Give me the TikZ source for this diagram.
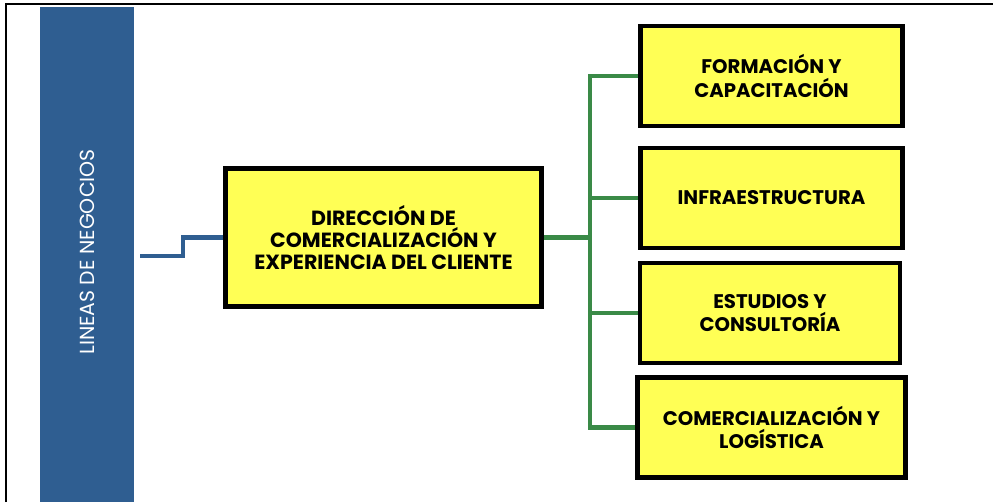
\documentclass[tikz,border=0pt]{standalone}
\usepackage{fontspec}
\setmainfont{Poppins}
\usepackage{tikz}
\usetikzlibrary{positioning}

\definecolor{barblue}{HTML}{2F5E91}
\definecolor{linkgreen}{HTML}{3A8A47}
\definecolor{boxyellow}{HTML}{FFFF55}

\begin{document}
\begin{tikzpicture}[x=0.025cm, y=-0.025cm,
  unit/.style={draw=black, line width=3.4pt, fill=boxyellow, align=center, font=\fontsize{14}{16.5}\selectfont\bfseries, minimum width=6.55cm, minimum height=2.5cm, inner sep=2pt},
  blueline/.style={draw=barblue, line width=3.2pt},
  greenline/.style={draw=linkgreen, line width=3pt}]
\useasboundingbox (0,0) rectangle (993,502);
\draw[line width=0.9pt] (6,502) -- (6,4) -- (993,4);
\fill[barblue] (40,7) rectangle (134,502);
\node(L)[rotate=90, text=white, font=\fontsize{14.5}{17}\selectfont] at (87,252) {LINEAS DE NEGOCIOS};

\node(a)[unit, minimum width=7.9cm, minimum height=3.45cm, font=\fontsize{14.6}{15.6}\selectfont\bfseries] at (383.5,237.5) {DIRECCIÓN DE\\COMERCIALIZACIÓN Y\\EXPERIENCIA DEL CLIENTE};
\node(b)[unit] at (771.5,76) {FORMACIÓN Y\\CAPACITACIÓN};
\node(c)[unit] at (771.5,198) {INFRAESTRUCTURA};
\node(d)[unit, minimum width=6.5cm] at (770,313) {ESTUDIOS Y\\CONSULTORÍA};
\node(e)[unit, minimum width=6.7cm] at (771.5,427.5) {COMERCIALIZACIÓN Y\\LOGÍSTICA};

\coordinate(s) at (140,256);
\coordinate(t) at (590,0);

\draw[blueline] (s) -- ++(43,0) |- (a.west);
\draw[greenline] (a.east) -- (a.east -| t);
\draw[greenline] (b.west) -- (b.west -| t) |- (e.west);
\draw[greenline] (c.west) -- (c.west -| t);
\draw[greenline] (d.west) -- (d.west -| t);
\end{tikzpicture}
\end{document}
